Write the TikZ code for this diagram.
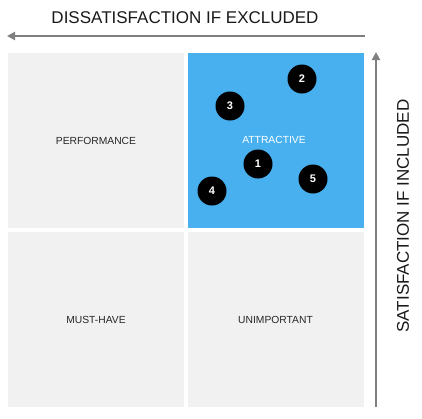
\documentclass[tikz,border=0pt]{standalone}
\usepackage{fontspec}
\setmainfont{Liberation Sans}
\usetikzlibrary{arrows.meta}

\definecolor{quadgray}{HTML}{F1F1F1}
\definecolor{quadblue}{HTML}{48B0EE}
\definecolor{axisgray}{HTML}{7F7F7F}

\tikzset{
  quad/.style={fill=quadgray, minimum width=176pt, minimum height=175pt,
               inner sep=0pt, font=\fontsize{10.3}{12}\selectfont, text=black!85},
  item/.style={circle, fill=black, minimum size=29pt, inner sep=0pt,
               text=white, font=\fontsize{11}{12}\selectfont\bfseries},
  axis/.style={draw=axisgray, line width=2pt,
               -{Triangle[length=8pt,width=8pt]}},
  axislabel/.style={font=\fontsize{17}{19}\selectfont, text=black!90}
}

\begin{document}
\begin{tikzpicture}[x=1pt,y=-1pt]
\useasboundingbox (0,0) rectangle (422,418);

% Quadrants
\node[quad] (perf) at (96,140.5) {PERFORMANCE};
\node[quad, fill=quadblue, text=white] (attr) at (275.5,140.5) {};
\node[quad] (must) at (96,319.5) {MUST-HAVE};
\node[quad] (unimp) at (275.5,319.5) {UNIMPORTANT};
\node[font=\fontsize{10.3}{12}\selectfont, text=white] (attrlabel) at (274,140) {ATTRACTIVE};

% Features
\foreach \n/\x/\y in {1/258/164, 2/302/79, 3/230/106, 4/212/191, 5/313/179}
  \node[item] (f\n) at (\x,\y) {\n};

% Axes
\coordinate (xstart) at (365,36);
\coordinate (xend) at (7,36);
\coordinate (ystart) at (376,407);
\coordinate (yend) at (376,52);
\draw[axis] (xstart) -- (xend);
\draw[axis] (ystart) -- (yend);

% Axis labels
\node[axislabel] (xlabel) at (185,18) {DISSATISFACTION IF EXCLUDED};
\node[axislabel, rotate=90] (ylabel) at (403,216) {SATISFACTION IF INCLUDED};

\end{tikzpicture}
\end{document}
